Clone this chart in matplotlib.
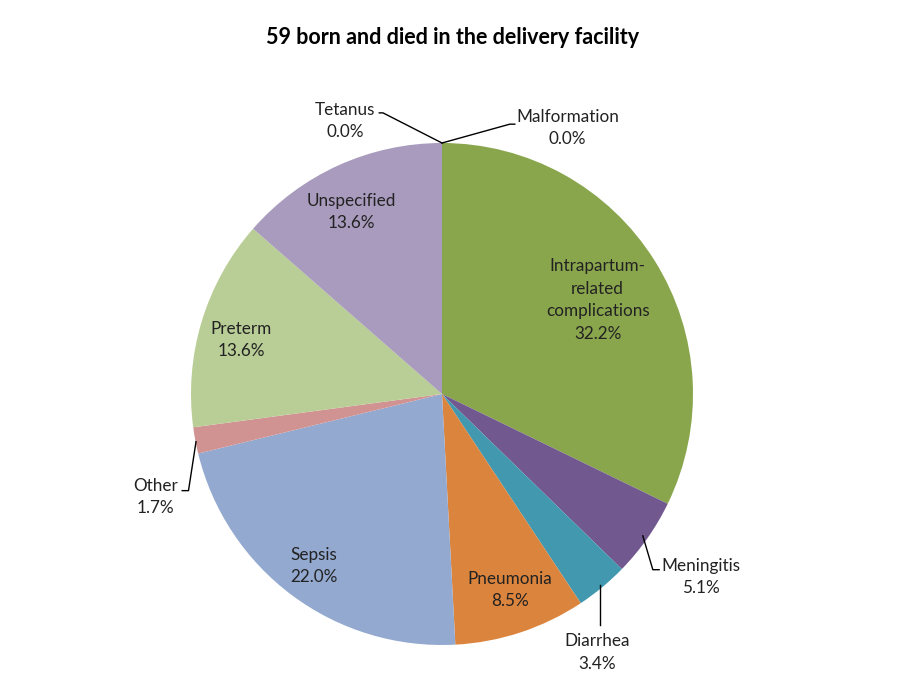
import numpy as np
import matplotlib
matplotlib.use('Agg')
import matplotlib.pyplot as plt

plt.rcParams['font.family'] = ['Lato', 'DejaVu Sans']

# data (clockwise from 12 o'clock)
causes = ['Malformation', 'Intrapartum-\nrelated\ncomplications', 'Meningitis', 'Diarrhea',
          'Pneumonia', 'Sepsis', 'Other', 'Preterm', 'Unspecified', 'Tetanus']
counts = [0, 19, 3, 2, 5, 13, 1, 8, 8, 0]
colors = ['#8aa64d', '#8aa64d', '#71588f', '#4198af', '#db843d',
          '#93a9cf', '#d19392', '#b9cd96', '#a99bbd', '#a99bbd']

# label placement (layout only)
label_pos = [(0.50, 1.06), (0.62, 0.375), (1.03, -0.73), (0.62, -1.03), (0.27, -0.78),
             (-0.51, -0.685), (-1.14, -0.41), (-0.80, 0.215), (-0.36, 0.725), (-0.385, 1.088)]
leaders = {
    0: [(0.0, 1.0), (0.27, 1.075), (0.29, 1.075)],
    9: [(0.0, 1.0), (-0.235, 1.12), (-0.25, 1.12)],
    2: [(0.80, -0.565), (0.84, -0.70), (0.865, -0.70)],
    3: [(0.63, -0.76), (0.63, -0.92)],
    6: [(-0.98, -0.19), (-1.01, -0.385), (-1.035, -0.385)],
}

total = sum(counts)
fig = plt.figure(figsize=(9, 6.95), dpi=100)
lim = 600 / 502
ax = fig.add_axes([142 / 900, 1 / 695, 600 / 900, 600 / 695])
ax.pie(counts, colors=colors, startangle=90, counterclock=False, radius=1.0,
       wedgeprops=dict(linewidth=0))
ax.set_xlim(-lim, lim)
ax.set_ylim(-lim, lim)
ax.set_aspect('equal')
ax.axis('off')

for i, (name, c) in enumerate(zip(causes, counts)):
    pct = 100.0 * c / total
    x, y = label_pos[i]
    ax.text(x, y, f'{name}\n{pct:.1f}%', ha='center', va='center', fontsize=12.3,
            color='#222222', linespacing=1.5)
    if i in leaders:
        pts = np.array(leaders[i])
        ax.plot(pts[:, 0], pts[:, 1], color='black', lw=1.0, clip_on=False)

fig.text(453 / 900, 1 - 38 / 695, '59 born and died in the delivery facility',
         ha='center', va='center', fontsize=15.5, fontweight='bold')

fig.savefig('out.png', dpi=100)
